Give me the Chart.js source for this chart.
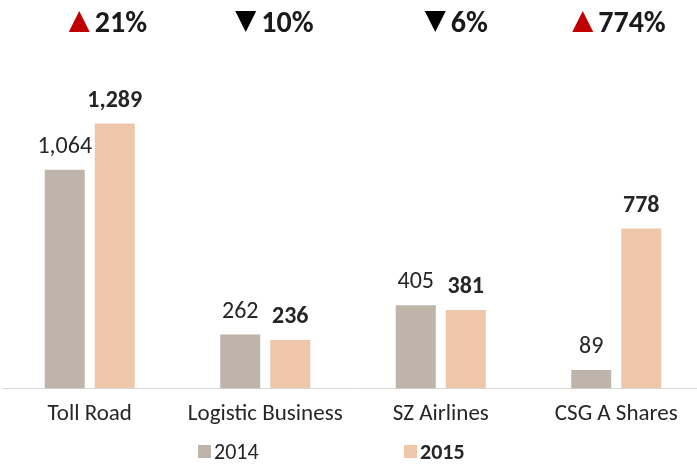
<!DOCTYPE html>
<html>
<head>
<meta charset="utf-8">
<script src="https://cdn.jsdelivr.net/npm/chart.js@4/dist/chart.umd.min.js"></script>
<style>
  html, body { margin: 0; padding: 0; background: #fff; overflow: hidden; }
  #wrap { width: 704px; height: 464px; position: relative; }
</style>
</head>
<body>
<div id="wrap"><canvas id="myChart"></canvas></div>
<script>
const categories = ['Toll Road', 'Logistic Business', 'SZ Airlines', 'CSG A Shares'];
const values2014 = [1064, 262, 405, 89];
const values2015 = [1289, 236, 381, 778];
const changes = ['21%', '10%', '6%', '774%'];
const changeUp = [true, false, false, true];
const seriesNames = ['2014', '2015'];

const FONT = "Carlito, Calibri, Lato, sans-serif";
const colors = ['#bfb4aa', '#eec6aa'];
// where each change marker starts, relative to the group centre
const markerShift = [-21, -30, -16, -44];

// value labels above each bar, 2015 in bold
const barLabels = {
    id: 'barLabels',
    afterDatasetsDraw(chart) {
        const ctx = chart.ctx;
        ctx.save();
        ctx.textAlign = 'center';
        ctx.textBaseline = 'alphabetic';
        ctx.fillStyle = '#262626';
        chart.data.datasets.forEach((ds, i) => {
            ctx.font = (i == 1 ? 'bold ' : '') + '24px ' + FONT;
            chart.getDatasetMeta(i).data.forEach((bar, j) => {
                ctx.fillText(ds.data[j].toLocaleString('en-US'), bar.x, bar.y - 17);
            });
        });
        ctx.restore();
    }
};

// change markers on top + legend at bottom
const extras = {
    id: 'extras',
    afterDraw(chart) {
        const ctx = chart.ctx;
        const x = chart.scales.x;
        ctx.save();
        ctx.textBaseline = 'alphabetic';
        categories.forEach((c, i) => {
            const start = x.getPixelForValue(i) + markerShift[i];
            const top = 11, bot = 32, triW = 21;
            ctx.fillStyle = changeUp[i] ? '#c00000' : '#000';
            ctx.beginPath();
            if (changeUp[i]) {
                ctx.moveTo(start, bot);
                ctx.lineTo(start + triW, bot);
                ctx.lineTo(start + triW / 2, top);
            } else {
                ctx.moveTo(start, top);
                ctx.lineTo(start + triW, top);
                ctx.lineTo(start + triW / 2, bot);
            }
            ctx.closePath();
            ctx.fill();
            ctx.fillStyle = '#1a1a1a';
            ctx.textAlign = 'left';
            ctx.font = 'bold 30px ' + FONT;
            ctx.fillText(changes[i], start + triW + 5, 32);
        });

        // legend
        const ly = 452;
        const lx = [198, 404];
        seriesNames.forEach((n, i) => {
            ctx.fillStyle = colors[i];
            ctx.fillRect(lx[i], ly - 7, 13, 13);
            ctx.fillStyle = '#262626';
            ctx.font = (i == 1 ? 'bold ' : '') + '22px ' + FONT;
            ctx.textAlign = 'left';
            ctx.textBaseline = 'middle';
            ctx.fillText(n, lx[i] + 16, ly + 1);
        });
        ctx.restore();
    }
};

const data = {
    labels: categories,
    datasets: [
        { label: seriesNames[0], data: values2014, backgroundColor: colors[0] },
        { label: seriesNames[1], data: values2015, backgroundColor: colors[1] }
    ]
};

const config = {
    type: 'bar',
    data: data,
    options: {
        responsive: true,
        maintainAspectRatio: false,
        animation: false,
        datasets: { bar: { categoryPercentage: 0.57, barPercentage: 0.8 } },
        layout: { padding: { left: 2, right: 0, top: 60, bottom: 24 } },
        plugins: { legend: { display: false }, tooltip: { enabled: false } },
        scales: {
            x: {
                grid: { display: false, drawTicks: false },
                border: { color: '#d9d9d9', width: 1 },
                ticks: { color: '#262626', font: { family: FONT, size: 23 }, padding: 12 }
            },
            y: {
                display: false,
                min: 0,
                max: 1598
            }
        }
    },
    plugins: [barLabels, extras]
};

const myChart = new Chart(document.getElementById('myChart'), config);
</script>
</body>
</html>
